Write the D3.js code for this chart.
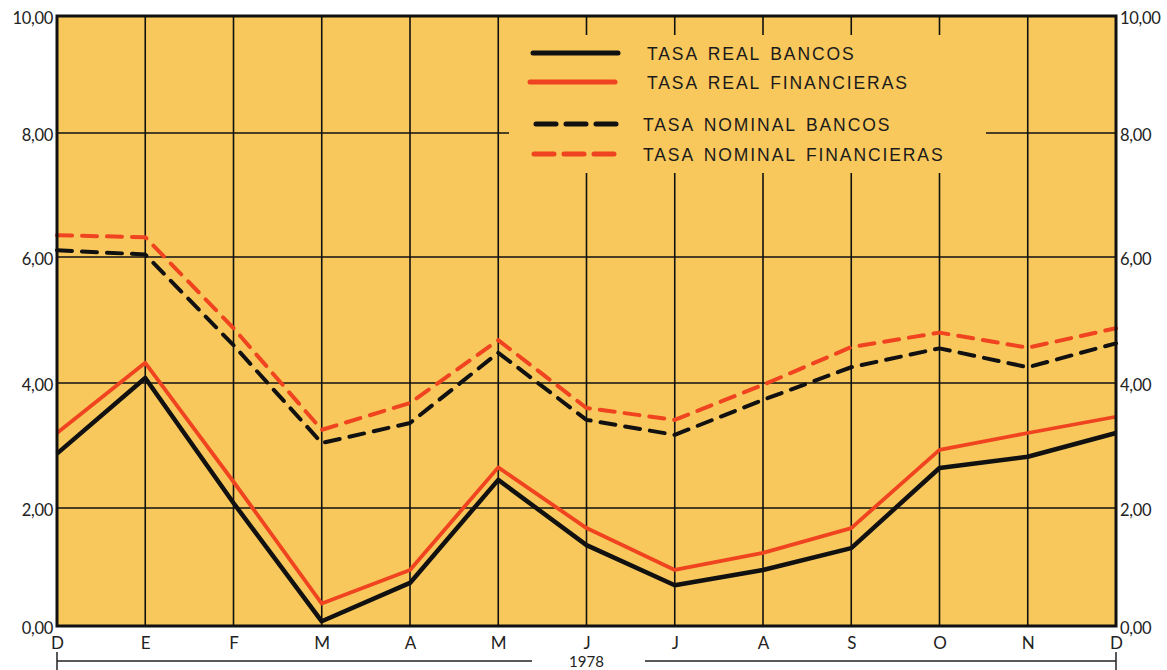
<!DOCTYPE html>
<html>
<head>
<meta charset="utf-8">
<script src="https://cdn.jsdelivr.net/npm/d3@7"></script>
<style>
  html, body { margin: 0; padding: 0; background: #ffffff; }
  svg { display: block; }
</style>
</head>
<body>
<svg id="chart" width="1167" height="670"></svg>
<script>
// ---- data ----
const months = ["D", "E", "F", "M", "A", "M", "J", "J", "A", "S", "O", "N", "D"];
const realBancos = [2.87, 4.08, 2.08, 0.08, 0.73, 2.45, 1.37, 0.69, 0.95, 1.32, 2.64, 2.82, 3.20];
const realFinancieras = [3.20, 4.32, 2.42, 0.38, 0.95, 2.65, 1.66, 0.95, 1.24, 1.66, 2.93, 3.20, 3.46];
const nominalBancos = [6.11, 6.04, 4.60, 3.04, 3.36, 4.48, 3.41, 3.17, 3.73, 4.25, 4.55, 4.25, 4.63];
const nominalFinancieras = [6.35, 6.32, 4.87, 3.25, 3.68, 4.68, 3.60, 3.41, 3.97, 4.57, 4.80, 4.56, 4.87];
const yTicks = [0, 2, 4, 6, 8, 10];
const yTickLabels = ["0,00", "2,00", "4,00", "6,00", "8,00", "10,00"];
const yearLabel = "1978";
const legendLabels = ["TASA REAL BANCOS", "TASA REAL FINANCIERAS", "TASA NOMINAL BANCOS", "TASA NOMINAL FINANCIERAS"];

// ---- layout ----
const L = 57, R = 1116, T = 16, B = 626;
const BG = "#f8c85c";
const RED = "#f0431f";
const BLACK = "#111111";

const svg = d3.select("#chart");

const x = d3.scaleLinear().domain([0, months.length - 1]).range([L, R]);
// printed grid is slightly uneven; follow it per gridline
const y = d3.scaleLinear().domain(yTicks).range([626, 508, 383, 257, 133, 16]);

// plot background
svg.append("rect").attr("x", L).attr("y", T).attr("width", R - L).attr("height", B - T).attr("fill", BG);

// grid
const grid = svg.append("g").attr("stroke", BLACK).attr("stroke-width", 1.6);
grid.selectAll("line.v").data(d3.range(1, months.length - 1)).join("line")
  .attr("x1", d => x(d)).attr("x2", d => x(d)).attr("y1", T).attr("y2", B);
grid.selectAll("line.h").data(yTicks.slice(1, -1)).join("line")
  .attr("x1", L).attr("x2", R).attr("y1", d => y(d)).attr("y2", d => y(d));

// legend box (hides grid)
const lg = svg.append("g");
lg.append("rect").attr("x", 509).attr("y", 35).attr("width", 477).attr("height", 138).attr("fill", BG);

// series lines
const line = d3.line().x((d, i) => x(i)).y(d => y(d));
const series = [
  { data: nominalBancos, color: BLACK, dash: "15,10", width: 4 },
  { data: nominalFinancieras, color: RED, dash: "15,10", width: 4 },
  { data: realBancos, color: BLACK, dash: null, width: 4.5 },
  { data: realFinancieras, color: RED, dash: null, width: 3.8 }
];
svg.append("g").selectAll("path").data(series).join("path")
  .attr("d", d => line(d.data))
  .attr("fill", "none")
  .attr("stroke", d => d.color)
  .attr("stroke-width", d => d.width)
  .attr("stroke-linejoin", "round")
  .attr("stroke-linecap", d => d.dash ? "round" : "butt")
  .attr("stroke-dasharray", d => d.dash);

// legend items
const legendItems = [
  { label: legendLabels[0], color: BLACK, dash: null, lx: 533, tx: 647, ly: 53 },
  { label: legendLabels[1], color: RED, dash: null, lx: 530, tx: 647, ly: 82 },
  { label: legendLabels[2], color: BLACK, dash: "20,10", lx: 536, tx: 643, ly: 124 },
  { label: legendLabels[3], color: RED, dash: "20,10", lx: 534, tx: 643, ly: 154 }
];
const li = lg.selectAll("g.item").data(legendItems).join("g");
li.append("line")
  .attr("x1", d => d.lx).attr("x2", d => d.lx + 85)
  .attr("y1", d => d.ly).attr("y2", d => d.ly)
  .attr("stroke", d => d.color).attr("stroke-width", 5)
  .attr("stroke-linecap", "round")
  .attr("stroke-dasharray", d => d.dash);
li.append("text")
  .attr("x", d => d.tx).attr("y", d => d.ly + 7)
  .attr("font-family", "'Liberation Sans', Arial, sans-serif")
  .attr("font-size", 17.5)
  .attr("letter-spacing", 1.9)
  .attr("word-spacing", 3)
  .attr("fill", "#1a1a1a")
  .text(d => d.label);

// frame
svg.append("rect").attr("x", L).attr("y", T).attr("width", R - L).attr("height", B - T)
  .attr("fill", "none").attr("stroke", BLACK).attr("stroke-width", 3);

// axes
const tickFont = "Lato, 'DejaVu Sans', sans-serif";
const yLeft = d3.axisLeft(y).tickValues(yTicks).tickSize(0).tickPadding(4)
  .tickFormat((d, i) => yTickLabels[i]);
const gl = svg.append("g").attr("transform", `translate(${L},0)`).call(yLeft);
const yRight = d3.axisRight(y).tickValues(yTicks).tickSize(0).tickPadding(4)
  .tickFormat((d, i) => yTickLabels[i]);
const gr = svg.append("g").attr("transform", `translate(${R},0)`).call(yRight);
[gl, gr].forEach(g => {
  g.select(".domain").remove();
  g.selectAll("text").attr("font-family", tickFont).attr("font-size", 16.5)
    .attr("fill", "#222").attr("dy", "0.45em").attr("letter-spacing", -0.3);
});

const xAxis = d3.axisBottom(x).tickValues(d3.range(months.length)).tickSize(0).tickPadding(11)
  .tickFormat((d, i) => months[i]);
const gx = svg.append("g").attr("transform", `translate(0,${B})`).call(xAxis);
gx.select(".domain").remove();
gx.selectAll("text").attr("font-family", tickFont).attr("font-size", 17).attr("fill", "#222");

// year bracket
const br = svg.append("g").attr("stroke", "#222").attr("stroke-width", 1.5);
br.append("line").attr("x1", L).attr("x2", L).attr("y1", 652).attr("y2", 670);
br.append("line").attr("x1", R).attr("x2", R).attr("y1", 652).attr("y2", 670);
br.append("line").attr("x1", L).attr("x2", 532).attr("y1", 661).attr("y2", 661);
br.append("line").attr("x1", 645).attr("x2", R).attr("y1", 661).attr("y2", 661);
svg.append("text").attr("x", (L + R) / 2 + 0).attr("y", 667)
  .attr("text-anchor", "middle")
  .attr("font-family", tickFont).attr("font-size", 15).attr("fill", "#222")
  .text(yearLabel);
</script>
</body>
</html>
